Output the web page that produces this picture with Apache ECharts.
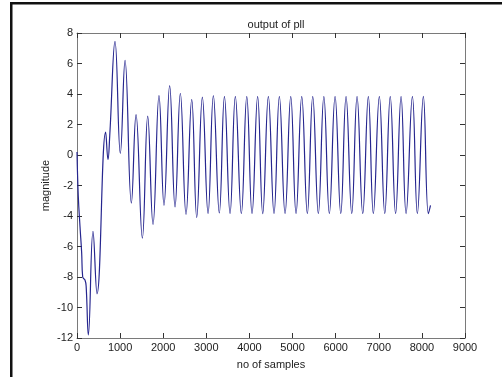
<!DOCTYPE html>
<html>
<head>
<meta charset="utf-8">
<script src="https://cdn.jsdelivr.net/npm/echarts@6/dist/echarts.min.js"></script>
<style>
html,body{margin:0;padding:0;background:#fff;}
#chart{width:502px;height:377px;}
</style>
</head>
<body>
<div id="chart"></div>
<script>
// sample index of each read-off point (peaks, troughs, knees)
var samples = [0, 30, 70, 108, 132, 185, 212, 263, 371, 464, 665, 719, 760, 882, 1005, 1114, 1261, 1369, 1516, 1640, 1763, 1902, 2018, 2149, 2274, 2397, 2529, 2661, 2777, 2908, 3040, 3163, 3301, 3420, 3550, 3673, 3812, 3938, 4060, 4190, 4308, 4439, 4570, 4694, 4826, 4958, 5081, 5213, 5343, 5468, 5598, 5726, 5853, 5986, 6118, 6241, 6373, 6496, 6628, 6758, 6874, 7013, 7139, 7266, 7390, 7517, 7633, 7780, 7895, 8034, 8150, 8200];
var magnitude = [0.2, -2.7, -4.7, -6.4, -8.0, -8.2, -8.6, -11.8, -5.0, -9.1, 1.5, -0.3, 1.3, 7.45, 0.1, 6.2, -3.15, 2.65, -5.45, 2.55, -4.55, 3.9, -3.3, 4.55, -3.4, 4.05, -3.9, 3.65, -4.1, 3.8, -3.85, 3.9, -3.8, 3.85, -3.85, 3.85, -3.85, 3.85, -3.85, 3.85, -3.85, 3.85, -3.85, 3.85, -3.85, 3.85, -3.85, 3.85, -3.85, 3.85, -3.85, 3.85, -3.85, 3.85, -3.85, 3.85, -3.85, 3.85, -3.85, 3.85, -3.85, 3.85, -3.85, 3.85, -3.85, 3.85, -3.85, 3.85, -3.85, 3.85, -3.85, -3.3];
var chartTitle = 'output of pll';
var xName = 'no of samples';
var yName = 'magnitude';

var pts = samples.map(function (s, i) { return [s, magnitude[i]]; });
var font = 'Liberation Sans, Arial, sans-serif';
var axisColor = '#7a7a7a';
var plain = function (v) { return String(v); };
var chart = echarts.init(document.getElementById('chart'), null, {renderer: 'canvas'});
var boxAxis = function (pos, isX) {
  return {
    type: 'value', position: pos,
    min: isX ? 0 : -12, max: isX ? 9000 : 8, interval: isX ? 1000 : 2,
    axisLine: {show: true, onZero: false, lineStyle: {color: axisColor, width: 1}},
    axisTick: {show: true, inside: true, length: 5, lineStyle: {color: '#333'}},
    axisLabel: {show: false},
    splitLine: {show: false}
  };
};
chart.setOption({
  animation: false,
  backgroundColor: '#fff',
  title: {
    text: chartTitle, left: 271, top: 14, textAlign: 'center',
    textStyle: {fontFamily: font, fontSize: 11, fontWeight: 'normal', color: '#222'}
  },
  grid: {left: 77, right: 37, top: 33, bottom: 39},
  xAxis: [{
    type: 'value', position: 'bottom', min: 0, max: 9000, interval: 1000,
    name: xName, nameLocation: 'middle', nameGap: 21, nameMoveOverlap: false,
    nameTextStyle: {fontFamily: font, fontSize: 11, color: '#222'},
    axisLine: {show: true, onZero: false, lineStyle: {color: axisColor, width: 1}},
    axisTick: {show: true, inside: true, length: 5, lineStyle: {color: '#333'}},
    axisLabel: {fontFamily: font, fontSize: 11, color: '#222', margin: 4, formatter: plain},
    splitLine: {show: false}
  }, boxAxis('top', true)],
  yAxis: [{
    type: 'value', position: 'left', min: -12, max: 8, interval: 2,
    name: yName, nameLocation: 'middle', nameGap: 26, nameRotate: 90, nameMoveOverlap: false,
    nameTextStyle: {fontFamily: font, fontSize: 11, color: '#222'},
    axisLine: {show: true, onZero: false, lineStyle: {color: axisColor, width: 1}},
    axisTick: {show: true, inside: true, length: 5, lineStyle: {color: '#333'}},
    axisLabel: {fontFamily: font, fontSize: 11, color: '#222', margin: 4, formatter: plain},
    splitLine: {show: false}
  }, boxAxis('right', false)],
  series: [{
    type: 'line', data: pts, xAxisIndex: 0, yAxisIndex: 0,
    smooth: 0.45, showSymbol: false,
    lineStyle: {color: '#26268f', width: 1.2}
  }],
  graphic: [
    {type: 'rect', shape: {x: 10, y: 2, width: 492, height: 2.5}, style: {fill: '#111'}},
    {type: 'rect', shape: {x: 10, y: 2, width: 2.5, height: 375}, style: {fill: '#111'}}
  ]
});
</script>
</body>
</html>
